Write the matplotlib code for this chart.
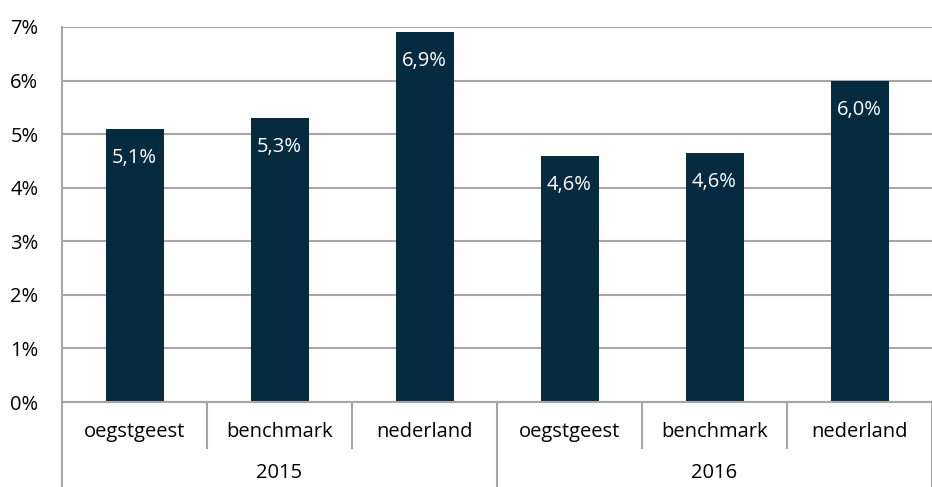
import matplotlib
matplotlib.use("Agg")
from matplotlib import pyplot as plt
import numpy as np

# data
jaren = ["2015", "2016"]
gebieden = ["oegstgeest", "benchmark", "nederland"]
waarden_2015 = [5.1, 5.3, 6.9]
waarden_2016 = [4.6, 4.64, 6.0]

waarden = waarden_2015 + waarden_2016
labels = gebieden * len(jaren)
x = np.arange(len(waarden))

plt.rcParams['font.family'] = ['Open Sans', 'DejaVu Sans']
fs = 14.5

fig = plt.figure(figsize=(9.32, 4.87), dpi=100)
ax = fig.add_axes([62/932, 85/487, 870/932, 375/487])

grijs = "#a6a6a6"
ax.bar(x, waarden, width=0.4, color="#062a40", zorder=3)

for xi, v in zip(x, waarden):
    tekst = ("%.1f%%" % v).replace(".", ",")
    ax.annotate(tekst, (xi, v), xytext=(0, -29), textcoords="offset pixels",
                ha="center", va="center", color="white", fontsize=fs, zorder=4)

ax.set_xlim(-0.5, len(waarden) - 0.5)
ax.set_ylim(0, 7)
ax.set_yticks(np.arange(0, 8, 1))
ax.set_yticklabels(["%d%%" % t for t in range(8)], fontsize=fs)
ax.tick_params(axis="y", length=0, pad=17)
ax.yaxis.grid(True, color=grijs, linewidth=1.5, zorder=0)

for s in ["top", "right", "bottom"]:
    ax.spines[s].set_visible(False)
ax.spines["left"].set_color(grijs)
ax.spines["left"].set_linewidth(1.5)

# onderste as met twee niveaus
ax.set_xticks([])
trans = ax.get_xaxis_transform()
ax.plot([-0.5, len(waarden) - 0.5], [0, 0], color=grijs, lw=1.5, transform=trans, clip_on=False, zorder=5)
for i in range(len(waarden) + 1):
    pos = i - 0.5
    if i % len(gebieden) == 0:
        onder = -0.24
    else:
        onder = -0.123
    ax.plot([pos, pos], [0, onder], color=grijs, lw=1.5, transform=trans, clip_on=False)

for xi, lab in zip(x, labels):
    ax.text(xi, -0.08, lab, transform=trans, ha="center", va="center", fontsize=fs)

for j, jaar in enumerate(jaren):
    midden = j * len(gebieden) + (len(gebieden) - 1) / 2
    ax.text(midden, -0.19, jaar, transform=trans, ha="center", va="center", fontsize=fs)

fig.savefig("out.png", dpi=100)
